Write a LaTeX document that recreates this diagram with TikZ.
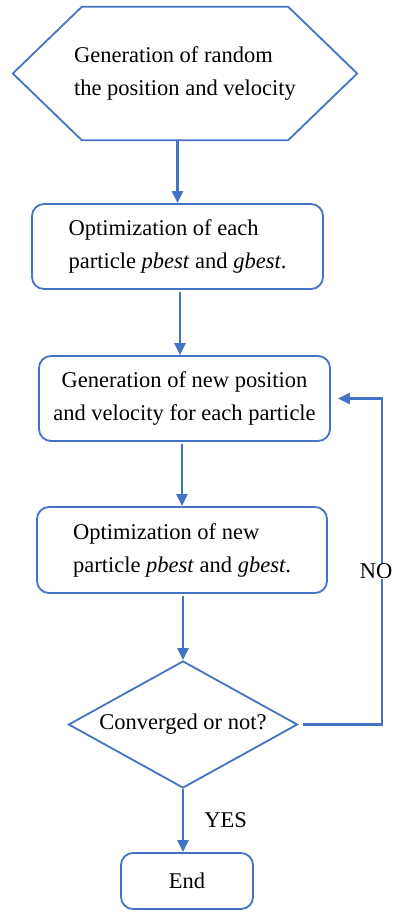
\documentclass[tikz,border=0pt]{standalone}
\usepackage{fontspec}
\setmainfont{Liberation Serif}
\usepackage{tikz}
\usetikzlibrary{arrows.meta}
\usetikzlibrary{shapes.geometric}
\definecolor{flowblue}{RGB}{68,114,196}
\tikzset{
    flowtext/.style={font=\fontsize{22.5pt}{33pt}\selectfont, align=center, inner sep=0pt},
    flowline/.style={draw=flowblue, line width=1.8pt},
    stepbox/.style={flowtext, flowline, rounded corners=12pt},
    decbox/.style={flowtext, flowline, diamond, aspect=1.8},
    flowarrow/.style={draw=flowblue, line width=2.8pt, -{Triangle[length=12pt, width=11pt]}}}

\begin{document}
\begin{tikzpicture}[x=1pt, y=-1pt]

            \useasboundingbox (0,0) rectangle (400,912);

            \node[flowtext, align=left, minimum width=344pt, minimum height=133pt] (gen) at (185,73.5) {Generation of random\\the position and velocity};
            \node[stepbox, align=left, minimum width=291pt, minimum height=85pt] (opt1) at (177.5,246.5) {Optimization of each\\particle \textit{pbest} and \textit{gbest}.};
            \node[stepbox, minimum width=291pt, minimum height=85pt] (newpos) at (184.5,398.5) {Generation of new position\\and velocity for each particle};
            \node[stepbox, align=left, minimum width=290pt, minimum height=86pt] (opt2) at (182,550) {Optimization of new\\particle \textit{pbest} and \textit{gbest}.};
            \node[decbox, minimum width=229pt, minimum height=127pt] (conv) at (183,724.5) {Converged or not?};
            \node[stepbox, minimum width=132pt, minimum height=56pt] (fin) at (187,881) {End};

            % hexagon round the start node
            \draw[flowline] (gen.west) -- ([xshift=69pt]gen.north west) -- ([xshift=-69pt]gen.north east) -- (gen.east) -- ([xshift=-69pt]gen.south east) -- ([xshift=69pt]gen.south west) -- cycle;

            \coordinate (loopb) at (382,724.5);
            \coordinate (loopt) at (382,398.5);

            \draw[flowarrow] (gen.south -| opt1.north) -- (opt1.north);
            \draw[flowarrow, shorten <=2pt] (opt1.south -| 180,0) -- (newpos.north -| 180,0);
            \draw[flowarrow, shorten <=2pt] (newpos.south -| 182,0) -- (opt2.north -| 182,0);
            \draw[flowarrow, shorten <=2pt] (opt2.south -| conv.north) -- (conv.north);
            \draw[flowarrow] (conv.south) -- (conv.south |- fin.north) node[midway, right=20pt, flowtext] {YES};
            \draw[flowarrow, shorten <=5pt, shorten >=7pt] (conv.east) -- (loopb) -- node[pos=0.47, fill=white, inner xsep=3pt, inner ysep=12pt, xshift=-6pt, flowtext] {NO} (loopt) -- (newpos.east);

        \end{tikzpicture}
\end{document}
